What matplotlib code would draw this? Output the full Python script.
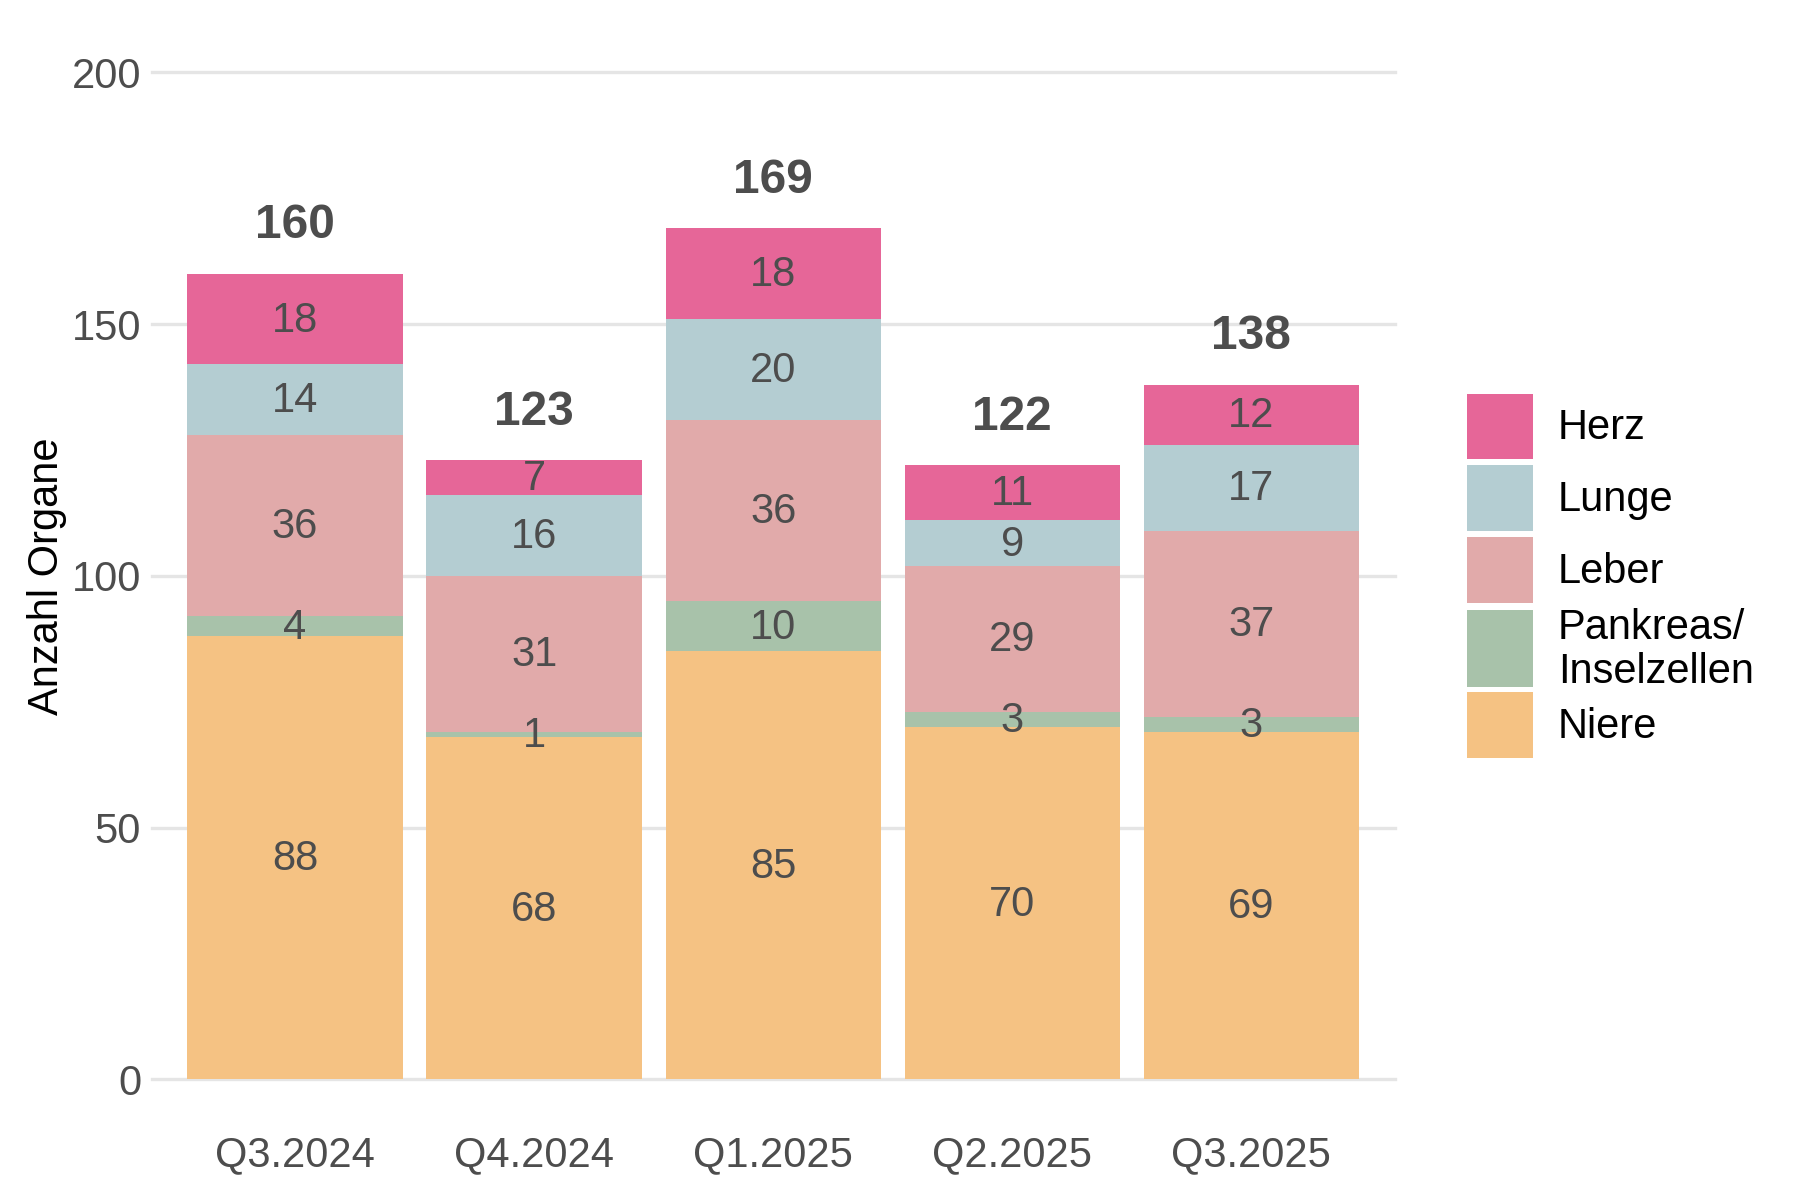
import matplotlib
matplotlib.use("Agg")
import matplotlib.pyplot as plt
from matplotlib.patches import Rectangle
import numpy as np

quarters = ["Q3.2024", "Q4.2024", "Q1.2025", "Q2.2025", "Q3.2025"]
organs = ["Niere", "Pankreas/\nInselzellen", "Leber", "Lunge", "Herz"]
niere = [88, 68, 85, 70, 69]
pankreas = [4, 1, 10, 3, 3]
leber = [36, 31, 36, 29, 37]
lunge = [14, 16, 20, 9, 17]
herz = [18, 7, 18, 11, 12]
series = [niere, pankreas, leber, lunge, herz]
colors = ["#F5C283", "#A8C2AA", "#E1AAAA", "#B4CDD2", "#E66698"]
yticks = [0, 50, 100, 150, 200]

plt.rcParams['font.family'] = ['Liberation Sans', 'DejaVu Sans']
W, H = 1568.0, 1045.0
fig = plt.figure(figsize=(12, 8), dpi=150)
ax = fig.add_axes([132 / W, 1 - 940 / H, (1215 - 132) / W, (940 - 63) / H])
ax.set_xlim(0.4, 5.6)
ax.set_ylim(0, 200)
for s in ax.spines.values():
    s.set_visible(False)
for t in yticks:
    ax.axhline(t, color="#E5E5E5", lw=1.6, zorder=0, clip_on=False)

x = np.arange(1, len(quarters) + 1)
bottom = np.zeros(len(quarters))
txtc = "#4D4D4D"
for vals, c in zip(series, colors):
    v = np.array(vals, dtype=float)
    ax.bar(x, v, 0.9, bottom=bottom, color=c, zorder=2, linewidth=0)
    for xi, b, vi in zip(x, bottom, v):
        ax.text(xi, b + vi / 2 - 0.3, f"{int(vi)}", ha="center", va="center",
                fontsize=20, color=txtc, zorder=3)
    bottom += v
for xi, tot in zip(x, bottom):
    ax.text(xi, tot + 9.5, f"{int(tot)}", ha="center", va="center",
            fontsize=23, fontweight="bold", color=txtc, zorder=3)

ax.set_xticks(x)
ax.set_xticklabels(quarters)
ax.set_yticks(yticks)
ax.tick_params(axis="both", length=0, labelsize=20, labelcolor=txtc)
ax.tick_params(axis="x", pad=27)
ax.tick_params(axis="y", pad=5)
ax.set_ylabel("Anzahl Organe", fontsize=20, color="black", labelpad=2)

# legend
lax = fig.add_axes([0, 0, 1, 1])
lax.set_xlim(0, W)
lax.set_ylim(H, 0)
lax.axis("off")
keys = [("Herz", 343, 400), ("Lunge", 405, 462), ("Leber", 468, 525),
        ("Pankreas/\nInselzellen", 531, 598), ("Niere", 603, 660)]
cmap = dict(zip(organs, colors))
for name, y0, y1 in keys:
    lax.add_patch(Rectangle((1278, y0), 57, y1 - y0, color=cmap[name], lw=0))
    lax.text(1357, (y0 + y1) / 2 + 1.5, name, ha="left", va="center",
             fontsize=20, color="black", linespacing=1.15)

fig.savefig("out.png", dpi=150)
